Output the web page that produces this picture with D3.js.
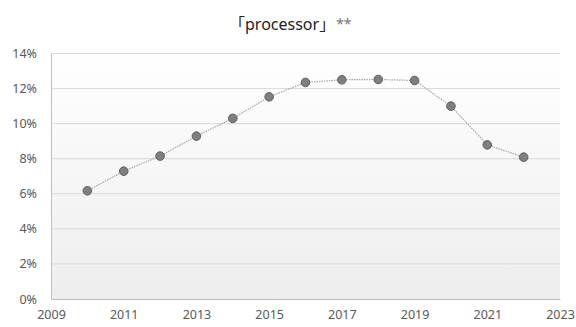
<!DOCTYPE html>
<html><head><meta charset="utf-8">
<script src="https://cdn.jsdelivr.net/npm/d3@7"></script>
<style>body{margin:0;background:#fff;} svg{display:block;}</style>
</head><body>
<svg id="c" width="576" height="327"></svg>
<script>
const years = [2010,2011,2012,2013,2014,2015,2016,2017,2018,2019,2020,2021,2022];
const values = [6.17,7.29,8.15,9.29,10.3,11.53,12.35,12.5,12.52,12.46,11.0,8.79,8.09];
const xTicks = [2009,2011,2013,2015,2017,2019,2021,2023];
const yTicks = [0,2,4,6,8,10,12,14];
const title = "「processor」";
const titleSuffix = "**";

const svg = d3.select("#c");
const font = "'Noto Sans','Noto Sans CJK JP',sans-serif";
const L = 51, R = 560, T = 53.5, B = 299;
const x = d3.scaleLinear().domain([2009,2023]).range([L,R]);
const y = d3.scaleLinear().domain([0,14]).range([B,T]);

const defs = svg.append("defs");
const g = defs.append("linearGradient").attr("id","bg").attr("x1",0).attr("y1",0).attr("x2",0).attr("y2",1);
g.append("stop").attr("offset","0%").attr("stop-color","#ffffff");
g.append("stop").attr("offset","100%").attr("stop-color","#ededed");
svg.append("rect").attr("x",L).attr("y",T).attr("width",R-L).attr("height",B-T).attr("fill","url(#bg)");

// gridlines
svg.append("g").selectAll("line").data(yTicks.filter(d=>d>0)).join("line")
  .attr("x1",L).attr("x2",R).attr("y1",d=>y(d)).attr("y2",d=>y(d))
  .attr("stroke","#d9d9d9").attr("stroke-width",1);

// axes
const yAxis = svg.append("g").attr("transform",`translate(${L},0)`)
  .call(d3.axisLeft(y).tickValues(yTicks).tickFormat(d=>d+"%").tickSize(0).tickPadding(14));
yAxis.select(".domain").attr("stroke","#bfbfbf");
yAxis.selectAll("text").attr("fill","#595959").style("font-family",font).style("font-size","12.5px");

const xAxis = svg.append("g").attr("transform",`translate(0,${B})`)
  .call(d3.axisBottom(x).tickValues(xTicks).tickFormat(d3.format("d")).tickSize(0).tickPadding(11));
xAxis.select(".domain").attr("stroke","#bfbfbf");
xAxis.selectAll("text").attr("fill","#595959").style("font-family",font).style("font-size","12.5px");

// line
const line = d3.line().x((d,i)=>x(years[i])).y(d=>y(d));
svg.append("path").datum(values).attr("d",line).attr("fill","none")
  .attr("stroke","#a6a6a6").attr("stroke-width",1.2).attr("stroke-dasharray","1.5,1");

svg.append("g").selectAll("circle").data(values).join("circle")
  .attr("cx",(d,i)=>x(years[i])).attr("cy",d=>y(d)).attr("r",4.3)
  .attr("fill","#7f7f7f").attr("stroke","#5f5f5f").attr("stroke-width",1);

// title
const t = svg.append("text").attr("x",229).attr("y",30).attr("text-anchor","start")
  .style("font-family",font).style("font-size","16px").attr("fill","#222").text(title);
const tw = t.node().getComputedTextLength();
svg.append("text").attr("x",229 + tw + 1).attr("y",29).attr("text-anchor","start")
  .style("font-family",font).style("font-size","14px").attr("fill","#777").text(titleSuffix);
</script>
</body></html>
